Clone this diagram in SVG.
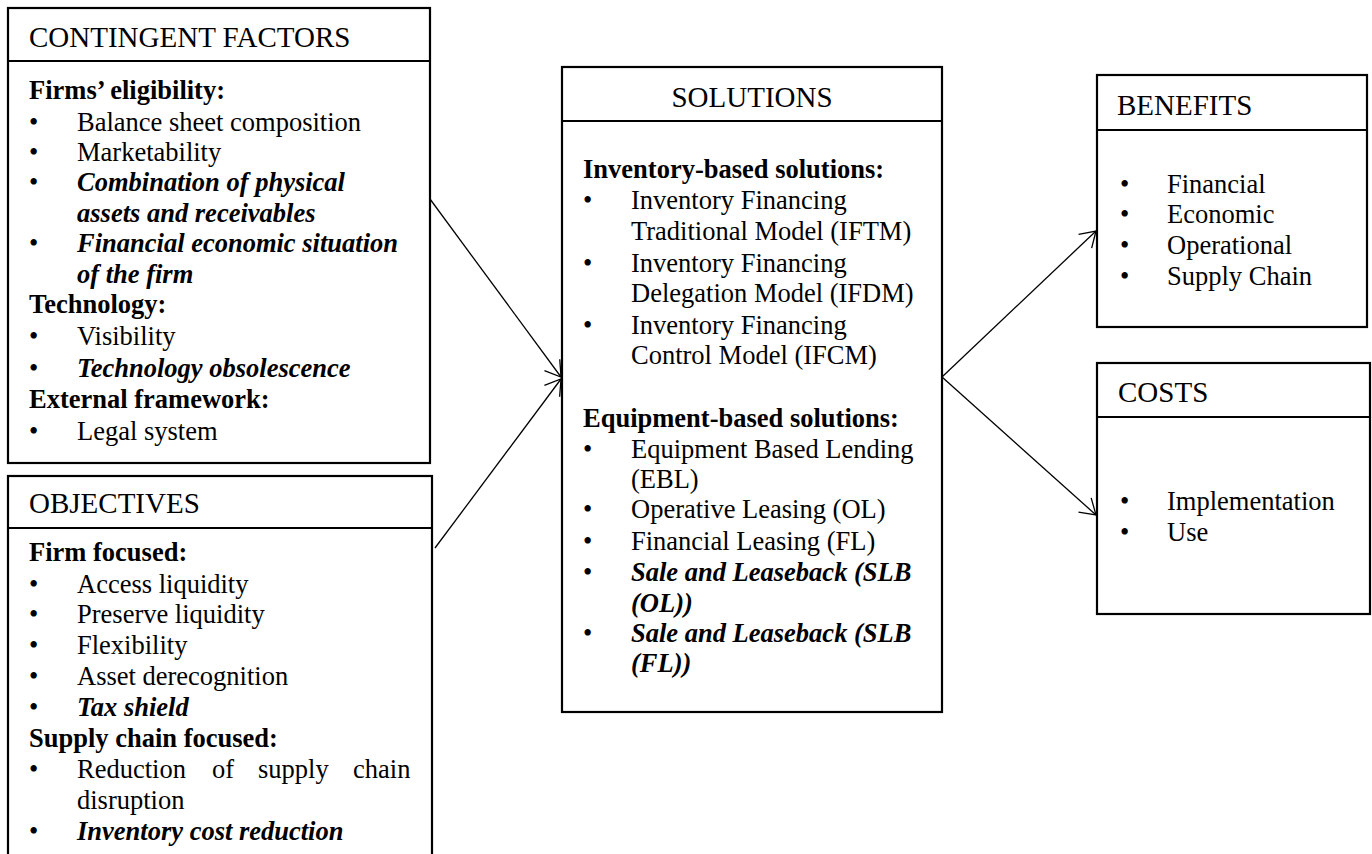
<svg xmlns="http://www.w3.org/2000/svg" width="1372" height="854" viewBox="0 0 1372 854">
  <style>
    .box { fill: #ffffff; stroke: #000000; stroke-width: 2.2; }
    .div { stroke: #000000; stroke-width: 2.2; }
    .head { font-family: "Liberation Serif", "Times New Roman", serif; font-size: 29px; fill: #000000; }
    .txt { font-family: "Liberation Serif", "Times New Roman", serif; font-size: 26.5px; fill: #000000; }
    .b { font-weight: bold; }
    .bi { font-weight: bold; font-style: italic; }
    .link { fill: none; stroke: #000000; stroke-width: 1.3; marker-end: url(#open); }
  </style>
  <defs>
    <marker id="open" markerUnits="userSpaceOnUse" viewBox="-17 -11 19 22" refX="0" refY="0" markerWidth="19" markerHeight="22" orient="auto" overflow="visible">
      <path d="M-15,-9.5 L0,0 L-15,9.5" fill="none" stroke="#000000" stroke-width="1.3"/>
    </marker>
  </defs>
  <rect width="1372" height="854" fill="#ffffff"/>

  <!-- Contingent factors -->
  <g id="contingent-factors">
    <rect class="box" x="8" y="8" width="422" height="455"/>
    <line class="div" x1="8" y1="61" x2="430" y2="61"/>
    <text class="head" x="29" y="47">CONTINGENT FACTORS</text>
    <g class="txt">
      <text class="b" x="29" y="99">Firms’ eligibility:</text>
      <text x="29" y="131">•</text><text x="77" y="131">Balance sheet composition</text>
      <text x="29" y="161">•</text><text x="77" y="161">Marketability</text>
      <text x="29" y="191">•</text><text class="bi" x="77" y="191">Combination of physical</text>
      <text class="bi" x="77" y="222">assets and receivables</text>
      <text x="29" y="252">•</text><text class="bi" x="77" y="252">Financial economic situation</text>
      <text class="bi" x="77" y="283">of the firm</text>
      <text class="b" x="29" y="313">Technology:</text>
      <text x="29" y="345">•</text><text x="77" y="345">Visibility</text>
      <text x="29" y="377">•</text><text class="bi" x="77" y="377">Technology obsolescence</text>
      <text class="b" x="29" y="408">External framework:</text>
      <text x="29" y="440">•</text><text x="77" y="440">Legal system</text>
    </g>
  </g>

  <!-- Objectives -->
  <g id="objectives">
    <rect class="box" x="8" y="476" width="424" height="400"/>
    <line class="div" x1="8" y1="528" x2="432" y2="528"/>
    <text class="head" x="29" y="513">OBJECTIVES</text>
    <g class="txt">
      <text class="b" x="29" y="561">Firm focused:</text>
      <text x="29" y="593">•</text><text x="77" y="593">Access liquidity</text>
      <text x="29" y="623">•</text><text x="77" y="623">Preserve liquidity</text>
      <text x="29" y="654">•</text><text x="77" y="654">Flexibility</text>
      <text x="29" y="685">•</text><text x="77" y="685">Asset derecognition</text>
      <text x="29" y="716">•</text><text class="bi" x="77" y="716">Tax shield</text>
      <text class="b" x="29" y="747">Supply chain focused:</text>
      <text x="29" y="778">•</text>
      <text y="778"><tspan x="77">Reduction</tspan><tspan x="212">of</tspan><tspan x="258">supply</tspan><tspan x="353">chain</tspan></text>
      <text x="77" y="809">disruption</text>
      <text x="29" y="840">•</text><text class="bi" x="77" y="840">Inventory cost reduction</text>
    </g>
  </g>

  <!-- Solutions -->
  <g id="solutions">
    <rect class="box" x="562" y="67" width="380" height="645"/>
    <line class="div" x1="562" y1="121" x2="942" y2="121"/>
    <text class="head" x="752" y="107" text-anchor="middle">SOLUTIONS</text>
    <g class="txt">
      <text class="b" x="583" y="178">Inventory-based solutions:</text>
      <text x="583" y="209">•</text><text x="631" y="209">Inventory Financing</text>
      <text x="631" y="240">Traditional Model (IFTM)</text>
      <text x="583" y="272">•</text><text x="631" y="272">Inventory Financing</text>
      <text x="631" y="302">Delegation Model (IFDM)</text>
      <text x="583" y="334">•</text><text x="631" y="334">Inventory Financing</text>
      <text x="631" y="364">Control Model (IFCM)</text>
      <text class="b" x="583" y="427">Equipment-based solutions:</text>
      <text x="583" y="458">•</text><text x="631" y="458">Equipment Based Lending</text>
      <text x="631" y="488">(EBL)</text>
      <text x="583" y="518">•</text><text x="631" y="518">Operative Leasing (OL)</text>
      <text x="583" y="550">•</text><text x="631" y="550">Financial Leasing (FL)</text>
      <text x="583" y="581">•</text><text class="bi" x="631" y="581">Sale and Leaseback (SLB</text>
      <text class="bi" x="631" y="612">(OL))</text>
      <text x="583" y="642">•</text><text class="bi" x="631" y="642">Sale and Leaseback (SLB</text>
      <text class="bi" x="631" y="672">(FL))</text>
    </g>
  </g>

  <!-- Benefits -->
  <g id="benefits">
    <rect class="box" x="1097" y="75" width="270" height="252"/>
    <line class="div" x1="1097" y1="130" x2="1367" y2="130"/>
    <text class="head" x="1117" y="115">BENEFITS</text>
    <g class="txt">
      <text x="1120" y="193">•</text><text x="1167" y="193">Financial</text>
      <text x="1120" y="223">•</text><text x="1167" y="223">Economic</text>
      <text x="1120" y="254">•</text><text x="1167" y="254">Operational</text>
      <text x="1120" y="285">•</text><text x="1167" y="285">Supply Chain</text>
    </g>
  </g>

  <!-- Costs -->
  <g id="costs">
    <rect class="box" x="1097" y="363" width="273" height="251"/>
    <line class="div" x1="1097" y1="417" x2="1370" y2="417"/>
    <text class="head" x="1118" y="402">COSTS</text>
    <g class="txt">
      <text x="1120" y="510">•</text><text x="1167" y="510">Implementation</text>
      <text x="1120" y="541">•</text><text x="1167" y="541">Use</text>
    </g>
  </g>

  <!-- Connectors -->
  <g id="connectors">
    <line class="link" x1="430" y1="199" x2="561" y2="377"/>
    <line class="link" x1="435" y1="548" x2="561" y2="379"/>
    <line class="link" x1="942" y1="377" x2="1096" y2="231"/>
    <line class="link" x1="942" y1="377" x2="1096" y2="515"/>
  </g>
</svg>
